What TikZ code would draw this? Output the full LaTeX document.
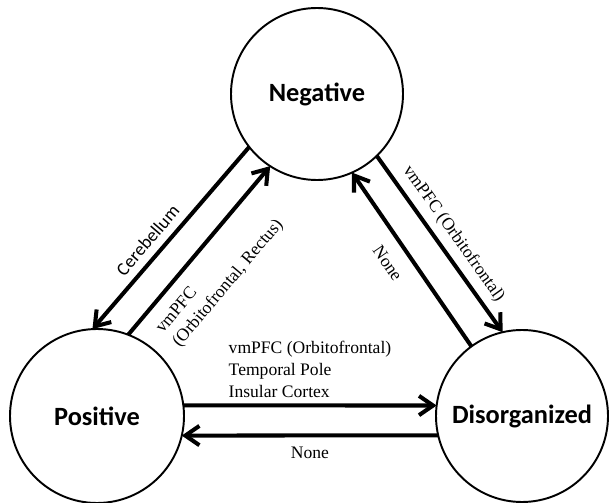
\documentclass[tikz,border=0pt]{standalone}
\usepackage{fontspec}
\setmainfont{Liberation Serif}
\setsansfont{Carlito}
\usepackage{tikz}
\usepackage{tikz-network}
\usetikzlibrary{arrows.meta}

\newcommand{\statefont}{\sffamily\bfseries\fontsize{15}{18}\selectfont}
\newcommand{\regionfont}{\rmfamily\fontsize{10}{12.5}\selectfont}
\tikzset{
  link/.style={line width=2.3pt, -{Straight Barb[length=8pt,width=11pt]}},
  region/.style={font=\regionfont, sloped, inner sep=2pt},
}

\begin{document}
\begin{tikzpicture}
        \useasboundingbox (0,0) rectangle (12.18,10.04);
        \SetVertexStyle[FillColor=white, LineColor=black, LineWidth=1.1pt, MinSize=3.44]
        \Vertex[label=Negative, fontsize=\statefont, size=3.44, x=6.34, y=8.16]{neg}
        \Vertex[label=Positive, fontsize=\statefont, size=3.48, x=1.94, y=1.72]{pos}
        \Vertex[label=Disorganized, fontsize=\statefont, size=3.44, x=10.44, y=1.72]{dis}
        \draw[link] (neg.218) -- (pos.93)
            node[pos=0.57, sloped, above=1pt, font=\sffamily\fontsize{10.5}{12}\selectfont] {Cerebellum};
        \draw[link] (pos.69) -- (neg.237)
            node[region, pos=0.47, below=5pt, align=left] {vmPFC\\(Orbitofrontal, Rectus)};
        \draw[link] (neg.-46) -- (dis.103)
            node[region, midway, above=2pt] {vmPFC (Orbitofrontal)};
        \draw[link] (dis.126) -- (neg.-66)
            node[region, pos=0.55, below=6pt] {None};
        \draw[link] (pos.7) -- (dis.173)
            node[font=\regionfont, midway, above, align=left] {vmPFC (Orbitofrontal)\\Temporal Pole\\Insular Cortex};
        \draw[link] (dis.193) -- (pos.-13)
            node[font=\regionfont, midway, below=2pt] {None};
\end{tikzpicture}
\end{document}
